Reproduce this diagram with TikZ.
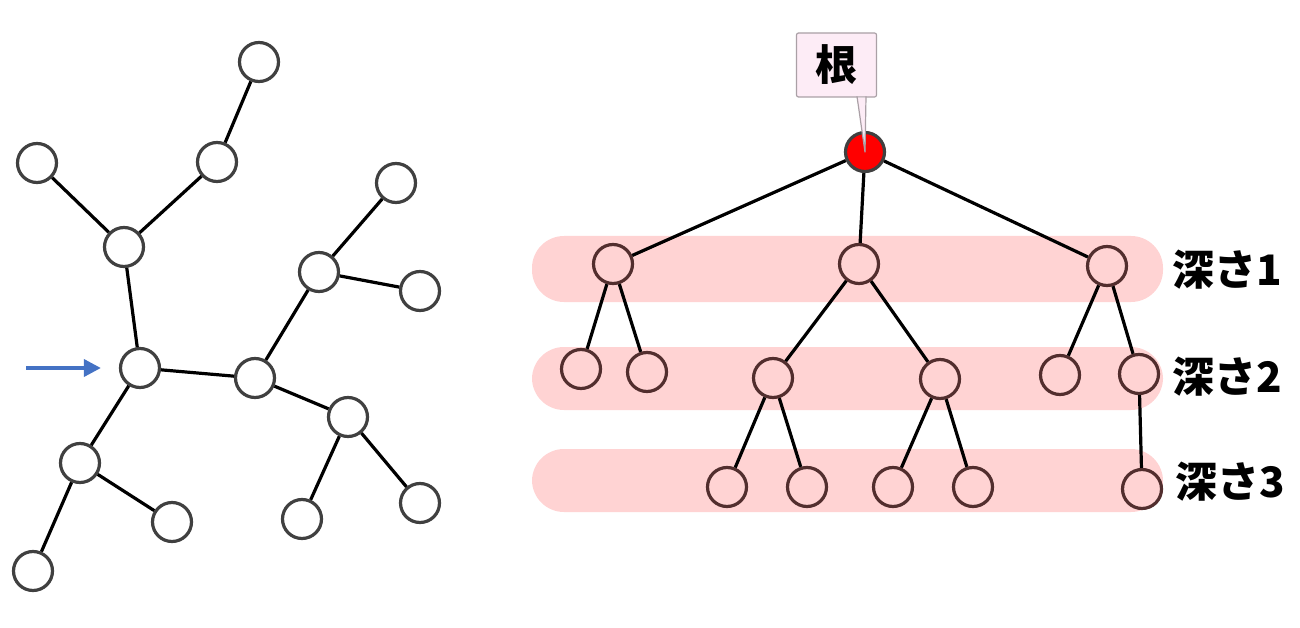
\documentclass[tikz,border=0pt]{standalone}
\usepackage{fontspec}
\newfontfamily\jp{Noto Sans CJK JP}
\usetikzlibrary{arrows.meta}
\definecolor{bandpink}{RGB}{255,211,211}
\definecolor{lnode}{RGB}{64,64,64}
\definecolor{rnode}{RGB}{82,46,46}
\definecolor{calloutfill}{RGB}{253,236,246}
\definecolor{calloutdraw}{RGB}{170,160,166}
\definecolor{arrowblue}{RGB}{68,114,196}
\tikzset{
  lv/.style={circle, draw=lnode, line width=3.2pt, fill=white, minimum size=39pt, inner sep=0pt},
  rv/.style={circle, draw=rnode, line width=3.2pt, minimum size=39pt, inner sep=0pt},
  rootv/.style={circle, draw=lnode, line width=3.2pt, fill=red, minimum size=39pt, inner sep=0pt},
  edge/.style={line width=3.2pt, black},
  band/.style={fill=bandpink, rounded corners=32pt},
  depthlabel/.style={anchor=west, inner sep=0pt, font=\jp\bfseries\fontsize{42pt}{44pt}\selectfont},
}
\begin{document}
\begin{tikzpicture}[x=1pt, y=-1pt]
\useasboundingbox (0,0) rectangle (1300,628);
% ---------- left tree ----------
\node[lv] (A) at (259,62) {};
\node[lv] (B) at (217,162) {};
\node[lv] (C) at (37,163) {};
\node[lv] (D) at (124,247) {};
\node[lv] (E) at (140,368) {};
\node[lv] (F) at (255,378) {};
\node[lv] (G) at (319,272) {};
\node[lv] (H) at (396,183) {};
\node[lv] (I) at (420,291) {};
\node[lv] (J) at (348,417) {};
\node[lv] (K) at (302,519) {};
\node[lv] (L) at (420,503) {};
\node[lv] (M) at (80,463) {};
\node[lv] (N) at (172,522) {};
\node[lv] (O) at (33,571) {};
\foreach \a/\b in {A/B,B/D,C/D,D/E,E/F,E/M,M/O,M/N,F/G,G/H,G/I,F/J,J/K,J/L}
  \draw[edge] (\a) -- (\b);
\coordinate (arrstart) at (26,368);
\draw[line width=3.6pt, arrowblue, -{Triangle[length=17pt,width=17pt]}] (arrstart) -- ([xshift=-18pt]E.west);
% ---------- right tree ----------
\fill[band] (532,236) rectangle (1163,302);
\fill[band] (532,347) rectangle (1163,410);
\fill[band] (532,449) rectangle (1163,512);
\node[rootv] (r) at (865,152) {};
\node[rv] (a1) at (613,264) {};
\node[rv] (b1) at (859,264) {};
\node[rv] (c1) at (1107,266) {};
\node[rv] (a2) at (581,369) {};
\node[rv] (b2) at (647,372) {};
\node[rv] (c2) at (773,378) {};
\node[rv] (d2) at (940,379) {};
\node[rv] (e2) at (1060,375) {};
\node[rv] (f2) at (1139,374) {};
\node[rv] (a3) at (727,487) {};
\node[rv] (b3) at (807,487) {};
\node[rv] (c3) at (893,487) {};
\node[rv] (d3) at (973,487) {};
\node[rv] (e3) at (1142,489) {};
\foreach \a/\b in {r/a1,r/b1,r/c1,a1/a2,a1/b2,b1/c2,b1/d2,c1/e2,c1/f2,c2/a3,c2/b3,d2/c3,d2/d3,f2/e3}
  \draw[edge] (\a) -- (\b);
% callout
\node[draw=calloutdraw, fill=calloutfill, line width=1.2pt, rounded corners=2pt,
      minimum width=80pt, minimum height=64pt, inner sep=0pt,
      font=\jp\bfseries\fontsize{42pt}{44pt}\selectfont] (lbl) at (836.5,65) {根};
\coordinate (ptrL) at (857,96.4);
\coordinate (ptrR) at (866,96.4);
\fill[calloutfill] ([yshift=-1.2pt]ptrL) -- (r.center) -- ([yshift=-1.2pt]ptrR) -- cycle;
\draw[calloutdraw, line width=1.2pt, line join=round] (ptrL) -- (r.center) -- (ptrR);
% depth labels
\node[depthlabel] (l1) at (1172,270) {深さ1};
\node[depthlabel] (l2) at (1172,377) {深さ2};
\node[depthlabel] (l3) at (1175,482) {深さ3};
\end{tikzpicture}
\end{document}
